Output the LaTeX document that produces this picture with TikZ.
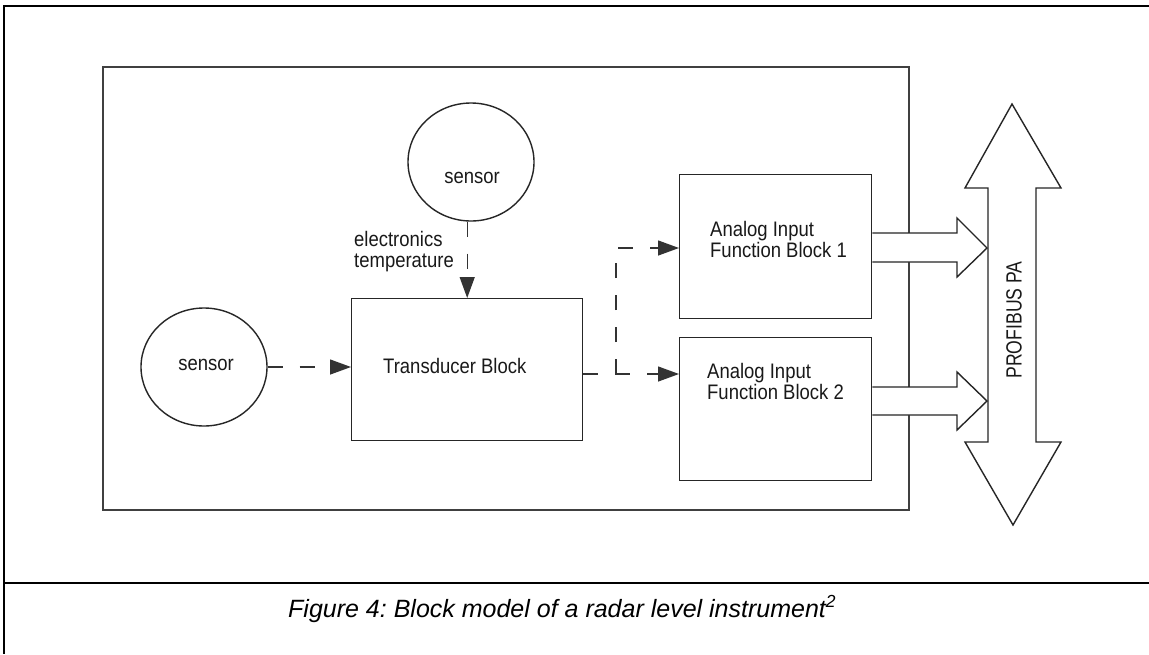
\documentclass[tikz,border=0pt]{standalone}
\usepackage{fontspec}
\setmainfont{Liberation Sans}
\newfontfamily\labfont{Liberation Sans}[FakeStretch=0.88]
\newfontfamily\busfont{Liberation Sans}[FakeStretch=0.8]
\usetikzlibrary{arrows.meta,shapes.geometric,calc}
\frenchspacing
\begin{document}
\begin{tikzpicture}[x=1pt,y=-1pt,
  frame/.style={line width=2pt,draw=black},
  devbox/.style={draw=black!75,line width=1.6pt,inner sep=0pt,anchor=north west},
  blockbox/.style={draw=black!85,line width=1.4pt,fill=white,inner sep=0pt,anchor=north west},
  sensorshape/.style={ellipse,draw=black!85,line width=1.4pt,minimum width=126pt,minimum height=118pt,inner sep=0pt},
  lab/.style={font=\labfont\fontsize{21}{21}\selectfont,text=black!90,inner sep=0pt},
  dashconn/.style={draw=black!80,line width=1.3pt,dash pattern=on 15pt off 17pt,-{Triangle[length=21pt,width=15pt]}},
  blockarrow/.style={draw=black!85,line width=1.4pt,fill=white,line join=miter},
]
\useasboundingbox (0,0) rectangle (1149,654);
\fill[white] (0,0) rectangle (1149,654);
% outer frame
\draw[frame] (1149,6) -- (4,6) -- (4,654);
\draw[frame] (4,583) -- (1149,583);
% device box
\node[devbox,minimum width=806pt,minimum height=443pt] (dev) at (102,66) {};
% sensors
\node[sensorshape] (s1) at (204,367) {};
\node[sensorshape] (s2) at (471,162) {};
\node[lab,anchor=base] (s1text) at (206,370) {sensor};
\node[lab,anchor=base] (s2text) at (472,183) {sensor};
% blocks
\node[blockbox,minimum width=231pt,minimum height=142pt] (tb) at (351,298) {};
\node[blockbox,minimum width=192pt,minimum height=144pt] (fb1) at (679,174) {};
\node[blockbox,minimum width=192pt,minimum height=143pt] (fb2) at (679,337) {};
\node[lab,anchor=base west] (tbtext) at (383,373.5) {Transducer Block};
\node[lab,anchor=north west,align=left] (fb1text) at (710,221.5) {Analog Input\\Function Block 1};
\node[lab,anchor=north west,align=left] (fb2text) at (707,363) {Analog Input\\Function Block 2};
\node[lab,anchor=north west,align=left] (temptext) at (354,231.4) {electronics\\temperature};
% dashed connectors
\draw[dashconn] (s1.east) -- (tb.west |- s1.east);
\draw[dashconn] (tb.north |- s2.south) -- (tb.north);
\coordinate (split) at (616,374);
\coordinate (up) at (616,248);
\draw[dashconn] (tb.east |- split) -- (split) -- (fb2.west |- split);
\draw[dashconn] (split) -- (up) -- (fb1.west |- up);
% bus
\draw[blockarrow] (1012,104) -- (1061,188) -- (1036,188) -- (1036,442) -- (1061,442) -- (1013,525) -- (965,442) -- (988,442) -- (988,188) -- (965,188) -- cycle;
\node[font=\busfont\fontsize{22}{22}\selectfont,text=black!90,rotate=90,inner sep=0pt] (buslabel) at (1014,320) {PROFIBUS PA};
% block arrows
\draw[blockarrow] (fb1.east |- 0,233) -- (957,233) -- (957,218) -- (987,248) -- (957,277) -- (957,262) -- (fb1.east |- 0,262);
\draw[blockarrow] (fb2.east |- 0,387) -- (957,387) -- (957,372) -- (987,401) -- (957,430) -- (957,415) -- (fb2.east |- 0,415);
% caption
\node[font=\itshape\fontsize{25}{25}\selectfont,anchor=base west,inner sep=0pt] (caption) at (288,617) {Figure 4: Block model of a radar level instrument\textsuperscript{2}};
\end{tikzpicture}
\end{document}
